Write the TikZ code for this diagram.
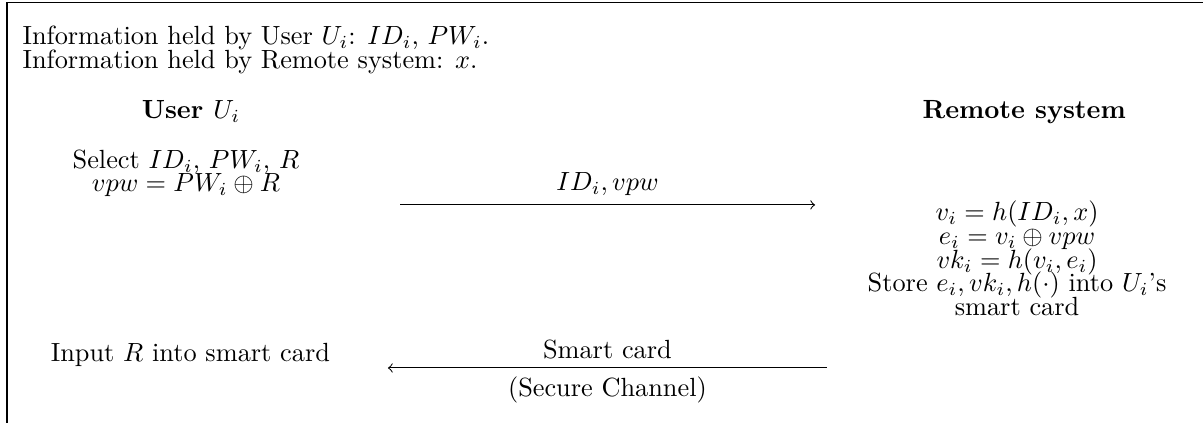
\documentclass[tikz,border=0pt]{standalone}
\usepackage{amsmath}
\usepackage{amssymb}
\tikzstyle{info}=[anchor=base west, align=left, inner sep=0pt, font=\fontsize{10}{9}\selectfont]
\tikzstyle{party}=[anchor=base, inner sep=0pt, font=\bfseries]
\tikzstyle{work}=[anchor=base, align=center, inner sep=0pt, font=\fontsize{10}{9}\selectfont]
\lineskiplimit=-\maxdimen
\begin{document}
\begin{tikzpicture}[x=1pt, y=-1pt]
                    \useasboundingbox (0,0) rectangle (457.4,160.8);
                    \draw (2.66,160.8) -- (2.66,0.95) -- (457.4,0.95);
                    % base anchor sits on the last line of each block
                    \node[info]  (inf) at (8.4, 26.1) {Information held by User $U_i$: $ID_i$, $PW_i$.\\Information held by Remote system: $x$.};
                    \node[party] (usr) at (72.6, 44.9) {User $U_i$};
                    \node[party] (rs)  at (389.4, 44.9) {Remote system};
                    \node[work]  (sel) at (70.7, 72.9) {Select $ID_i$, $PW_i$, $R$\\$vpw = PW_i \oplus R$};
                    \node[work]  (cmp) at (386.7, 120) {$v_i = h(ID_i, x)$\\$e_i = v_i \oplus vpw$\\$vk_i = h(v_i, e_i)$\\Store $e_i, vk_i, h(\cdot)$ into $U_i$'s\\smart card};
                    \node[work]  (inp) at (72.4, 137.5) {Input $R$ into smart card};
                    \coordinate (m1s) at (152.1, 77.9);
                    \coordinate (m1e) at (309.9, 77.9);
                    \coordinate (m2s) at (314.4, 139.9);
                    \coordinate (m2e) at (147.5, 139.9);
                    \draw[->]  (m1s) -- node[above] {$ID_i, vpw$} (m1e);
                    \draw[->]  (m2s) -- node[above] {Smart card} node[below] {(Secure Channel)} (m2e);
                \end{tikzpicture}
\end{document}
